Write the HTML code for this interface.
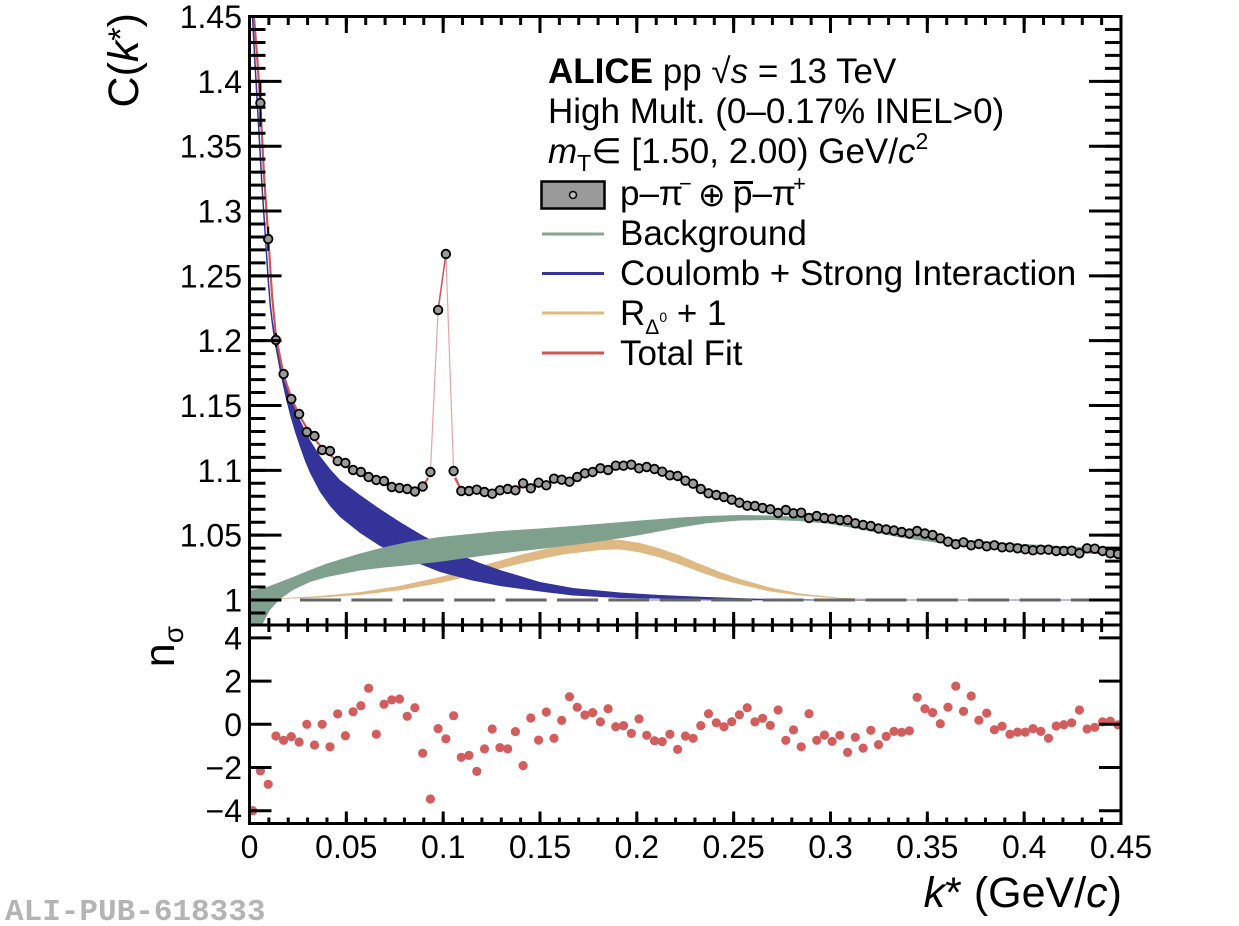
<!DOCTYPE html>
<html><head><meta charset="utf-8"><style>
html,body{margin:0;padding:0;background:#fff;}
svg{display:block;font-family:"Liberation Sans",Arial,sans-serif;}
</style></head><body>
<svg width="1239" height="926" viewBox="0 0 1239 926" xmlns="http://www.w3.org/2000/svg">
<defs>
<clipPath id="cu"><rect x="249.5" y="16.5" width="871.5" height="608.5"/></clipPath>
<clipPath id="cl"><rect x="249.5" y="625" width="871.5" height="198.5"/></clipPath>
</defs>
<rect width="1239" height="926" fill="#fff"/>

<g clip-path="url(#cu)">
<polygon fill="#dfb983" points="250,600 280,598.2 320,596 360,592.1 400,585.8 440,577 480,566.2 520,555 560,545.5 600,540.3 620,539.7 640,543 660,548.5 680,555.5 700,564 720,572 740,579 770,587.5 800,593.5 840,597.8 880,599.4 920,600 1121,600 1121,600.5 920,600.5 880,599.8 840,598.5 800,595.5 770,591.5 740,584.5 720,579 700,572 680,564.5 660,557.5 640,552.5 620,549.4 600,550 560,554.9 520,563.6 480,573.8 440,583 400,590.2 360,594.9 320,597.6 280,599 250,600.5"/>
<line x1="650" y1="600" x2="1121" y2="600" stroke="#7777cc" stroke-width="1"/>
<polygon fill="#333399" points="253,10 255,50 257,85 259,120 261,155 263,190 265,220 267,250 269,280 271,305 273,322 276,340 280,358 284,374 290,395 295,408 300,420 310,440 320,456 330,469 340,480 360,495 380,509 400,522 420,534 440,545 460,555 480,563 500,570 540,582 573,588 620,592.5 660,595 707,597 760,598.7 820,599.6 900,600 900,600.6 800,600.3 707,599.4 620,598 573,595.5 540,591.5 500,586 470,580 440,572 420,564 400,556 380,546 360,533 340,517 330,506 320,492 310,473 305,461 300,447 295,432 290,415 285,395 280,372 274,340 271.5,322 269.5,305 267.5,280 265.5,250 263.5,220 261.5,190 259.5,155 257.5,120 255.5,85 253.5,50 251.5,10"/>
<polygon fill="#7fa08c" points="249,590 258,589 267,587 280,582 293,577 310,570 327,563.5 345,558 360,553.5 385,547 410,541.5 440,537 470,534 500,531 540,528.5 573,526 610,523 640,520.5 680,517.5 707,516 740,515 773,515.5 800,517 830,521 860,526.5 900,532.5 950,538.5 1000,542.5 1050,545.5 1121,549 1121,555 1050,552 1000,549 950,544.5 900,537.5 860,529.3 830,524 800,521 773,520 740,520.5 707,523.3 680,527.5 640,535 610,540 573,545 540,549 500,553.5 470,557.5 440,561.7 410,565 380,568 360,570.5 327,577 310,582 293,590 280,599 270,610 262,625 249,640"/>
<line x1="300" y1="600" x2="1089" y2="600" stroke="#666" stroke-width="3" stroke-dasharray="41 10.4"/>
<polyline fill="none" stroke="#e8a5a5" stroke-width="1.2" points="422.7,487 430.4,472 438.1,310 445.9,254 453.6,471 461.3,490"/>
<polyline fill="none" stroke="#d05555" stroke-width="2.2" points="254,17 257,55 260.4,105 264,175 268.2,236 272,295 275.9,336 283.6,375 291.3,398 299.1,415 306.8,428 314.5,439 322.2,448 330,455 337.7,461 345.4,466 353.1,471 360.9,475 368.6,478 376.3,481 384,484 391.8,486 399.5,488 407.2,489.5 414.9,490 422.7,487 428,478"/>
<polyline fill="none" stroke="#d05555" stroke-width="1.5" points="438.1,310 445.9,254"/>
<polyline fill="none" stroke="#d05555" stroke-width="2.2" points="455,478 461.3,490 469,491 476.8,491.5 484.5,491.5 492.2,491 499.9,490.5 507.7,489.5 515.4,488.5 523.1,487 530.8,486 538.6,484.5 546.3,483 554,481 561.7,480 569.5,478.5 577.2,477 584.9,474.5 592.6,472.5 600.4,470.5 608.1,469 615.8,467.5 623.5,466.5 631.3,466 639,466.5 646.7,467.5 654.5,469.5 662.2,472 669.9,474.5 677.6,477.5 685.4,480.5 693.1,484 700.8,488 708.5,491.5 716.3,494.5 724,497 731.7,499.5 739.4,502 747.2,504 754.9,506 762.6,508 770.3,509.5 778.1,511 785.8,512.5 793.5,513.5 801.2,515 809,516 816.7,517.5 824.4,518.5 832.1,519.5 839.9,520.5 855.3,523 870.8,526 886.2,529 901.7,532 917.1,534.5 932.6,537 948,539.5 963.5,542 978.9,544 994.4,546 1009.9,547.5 1025.3,549 1040.8,550 1056.2,551 1071.7,551.5 1087.1,552 1102.6,552.5 1121,553.5"/>
<g stroke="#000" stroke-width="2">
<line x1="260.4" y1="81.7" x2="260.4" y2="126.7"/>
<line x1="268.2" y1="226.7" x2="268.2" y2="251"/>
<line x1="275.9" y1="333" x2="275.9" y2="347"/>
<line x1="283.6" y1="369" x2="283.6" y2="379"/>
</g>
<g fill="#9a9a9a" stroke="#000" stroke-width="1.8">
<circle cx="260.4" cy="103" r="4.3"/><circle cx="268.2" cy="239" r="4.3"/><circle cx="275.9" cy="340" r="4.3"/><circle cx="283.6" cy="374" r="4.3"/><circle cx="291.3" cy="399" r="4.3"/><circle cx="299.1" cy="414" r="4.3"/><circle cx="306.8" cy="432" r="4.3"/><circle cx="314.5" cy="436" r="4.3"/><circle cx="322.2" cy="450" r="4.3"/><circle cx="330" cy="451" r="4.3"/><circle cx="337.7" cy="461" r="4.3"/><circle cx="345.4" cy="463" r="4.3"/><circle cx="353.1" cy="470" r="4.3"/><circle cx="360.9" cy="472" r="4.3"/><circle cx="368.6" cy="477" r="4.3"/><circle cx="376.3" cy="480" r="4.3"/><circle cx="384" cy="481" r="4.3"/><circle cx="391.8" cy="487" r="4.3"/><circle cx="399.5" cy="488" r="4.3"/><circle cx="407.2" cy="489" r="4.3"/><circle cx="414.9" cy="491.5" r="4.3"/><circle cx="422.7" cy="486.5" r="4.3"/><circle cx="430.4" cy="472" r="4.3"/><circle cx="438.1" cy="310" r="4.3"/><circle cx="445.9" cy="254" r="4.3"/><circle cx="453.6" cy="471" r="4.3"/><circle cx="461.3" cy="491" r="4.3"/><circle cx="469" cy="491" r="4.3"/><circle cx="476.8" cy="489.7" r="4.3"/><circle cx="484.5" cy="492" r="4.3"/><circle cx="492.2" cy="493.7" r="4.3"/><circle cx="499.9" cy="490.3" r="4.3"/><circle cx="507.7" cy="489" r="4.3"/><circle cx="515.4" cy="490.3" r="4.3"/><circle cx="523.1" cy="483.3" r="4.3"/><circle cx="530.8" cy="488.3" r="4.3"/><circle cx="538.6" cy="482.7" r="4.3"/><circle cx="546.3" cy="485.3" r="4.3"/><circle cx="554" cy="478.7" r="4.3"/><circle cx="561.7" cy="479.7" r="4.3"/><circle cx="569.5" cy="481.7" r="4.3"/><circle cx="577.2" cy="477" r="4.3"/><circle cx="584.9" cy="473.3" r="4.3"/><circle cx="592.6" cy="472" r="4.3"/><circle cx="600.4" cy="468.3" r="4.3"/><circle cx="608.1" cy="470" r="4.3"/><circle cx="615.8" cy="465.7" r="4.3"/><circle cx="623.5" cy="465.7" r="4.3"/><circle cx="631.3" cy="464.7" r="4.3"/><circle cx="639" cy="468.3" r="4.3"/><circle cx="646.7" cy="467" r="4.3"/><circle cx="654.5" cy="469" r="4.3"/><circle cx="662.2" cy="471.7" r="4.3"/><circle cx="669.9" cy="475.3" r="4.3"/><circle cx="677.6" cy="476" r="4.3"/><circle cx="685.4" cy="480.7" r="4.3"/><circle cx="693.1" cy="483.7" r="4.3"/><circle cx="700.8" cy="489" r="4.3"/><circle cx="708.5" cy="493.3" r="4.3"/><circle cx="716.3" cy="495" r="4.3"/><circle cx="724" cy="497" r="4.3"/><circle cx="731.7" cy="499.7" r="4.3"/><circle cx="739.4" cy="502.7" r="4.3"/><circle cx="747.2" cy="505.7" r="4.3"/><circle cx="754.9" cy="506" r="4.3"/><circle cx="762.6" cy="508" r="4.3"/><circle cx="770.3" cy="509.3" r="4.3"/><circle cx="778.1" cy="513" r="4.3"/><circle cx="785.8" cy="510" r="4.3"/><circle cx="793.5" cy="513.3" r="4.3"/><circle cx="801.2" cy="512.7" r="4.3"/><circle cx="809" cy="518" r="4.3"/><circle cx="816.7" cy="516" r="4.3"/><circle cx="824.4" cy="518" r="4.3"/><circle cx="832.1" cy="518.7" r="4.3"/><circle cx="839.9" cy="520" r="4.3"/><circle cx="847.6" cy="520" r="4.3"/><circle cx="855.3" cy="523.3" r="4.3"/><circle cx="863.1" cy="525" r="4.3"/><circle cx="870.8" cy="526" r="4.3"/><circle cx="878.5" cy="528.5" r="4.3"/><circle cx="886.2" cy="529.5" r="4.3"/><circle cx="894" cy="530.5" r="4.3"/><circle cx="901.7" cy="532" r="4.3"/><circle cx="909.4" cy="533.5" r="4.3"/><circle cx="917.1" cy="531" r="4.3"/><circle cx="924.9" cy="533.5" r="4.3"/><circle cx="932.6" cy="535" r="4.3"/><circle cx="940.3" cy="538.3" r="4.3"/><circle cx="948" cy="541.7" r="4.3"/><circle cx="955.8" cy="544.3" r="4.3"/><circle cx="963.5" cy="542.3" r="4.3"/><circle cx="971.2" cy="545.3" r="4.3"/><circle cx="978.9" cy="544" r="4.3"/><circle cx="986.7" cy="546.3" r="4.3"/><circle cx="994.4" cy="545.3" r="4.3"/><circle cx="1002.1" cy="547.3" r="4.3"/><circle cx="1009.9" cy="547.3" r="4.3"/><circle cx="1017.6" cy="548.3" r="4.3"/><circle cx="1025.3" cy="549.3" r="4.3"/><circle cx="1033" cy="550.3" r="4.3"/><circle cx="1040.8" cy="549.7" r="4.3"/><circle cx="1048.5" cy="549.7" r="4.3"/><circle cx="1056.2" cy="551" r="4.3"/><circle cx="1063.9" cy="551" r="4.3"/><circle cx="1071.7" cy="550.7" r="4.3"/><circle cx="1079.4" cy="553.3" r="4.3"/><circle cx="1087.1" cy="548.3" r="4.3"/><circle cx="1094.8" cy="548.7" r="4.3"/><circle cx="1102.6" cy="551" r="4.3"/><circle cx="1110.3" cy="553.3" r="4.3"/><circle cx="1118" cy="554" r="4.3"/>
</g>
</g>

<g clip-path="url(#cl)" fill="#d35c5c">
<circle cx="252.7" cy="810.7" r="4.6"/><circle cx="260.4" cy="770.9" r="4.6"/><circle cx="268.2" cy="784.3" r="4.6"/><circle cx="275.9" cy="736" r="4.6"/><circle cx="283.6" cy="740.3" r="4.6"/><circle cx="291.3" cy="736.6" r="4.6"/><circle cx="299.1" cy="742" r="4.6"/><circle cx="306.8" cy="724.3" r="4.6"/><circle cx="314.5" cy="745" r="4.6"/><circle cx="322.2" cy="724.3" r="4.6"/><circle cx="330" cy="746.8" r="4.6"/><circle cx="337.7" cy="713.9" r="4.6"/><circle cx="345.4" cy="735.7" r="4.6"/><circle cx="353.1" cy="711.8" r="4.6"/><circle cx="360.9" cy="705.7" r="4.6"/><circle cx="368.6" cy="688.2" r="4.6"/><circle cx="376.3" cy="734.2" r="4.6"/><circle cx="384" cy="704.2" r="4.6"/><circle cx="391.8" cy="699.9" r="4.6"/><circle cx="399.5" cy="699" r="4.6"/><circle cx="407.2" cy="716.3" r="4.6"/><circle cx="414.9" cy="707.7" r="4.6"/><circle cx="422.7" cy="753.2" r="4.6"/><circle cx="430.4" cy="799" r="4.6"/><circle cx="438.1" cy="728.6" r="4.6"/><circle cx="445.9" cy="738.8" r="4.6"/><circle cx="453.6" cy="715.7" r="4.6"/><circle cx="461.3" cy="757.3" r="4.6"/><circle cx="469" cy="755.4" r="4.6"/><circle cx="476.8" cy="771.4" r="4.6"/><circle cx="484.5" cy="748.9" r="4.6"/><circle cx="492.2" cy="729" r="4.6"/><circle cx="499.9" cy="747.6" r="4.6"/><circle cx="507.7" cy="748.9" r="4.6"/><circle cx="515.4" cy="731.6" r="4.6"/><circle cx="523.1" cy="765.6" r="4.6"/><circle cx="530.8" cy="718" r="4.6"/><circle cx="538.6" cy="740.1" r="4.6"/><circle cx="546.3" cy="712" r="4.6"/><circle cx="554" cy="738.3" r="4.6"/><circle cx="561.7" cy="720.4" r="4.6"/><circle cx="569.5" cy="696.7" r="4.6"/><circle cx="577.2" cy="707.2" r="4.6"/><circle cx="584.9" cy="715" r="4.6"/><circle cx="592.6" cy="712.6" r="4.6"/><circle cx="600.4" cy="721.9" r="4.6"/><circle cx="608.1" cy="708.7" r="4.6"/><circle cx="615.8" cy="726.7" r="4.6"/><circle cx="623.5" cy="725.6" r="4.6"/><circle cx="631.3" cy="733.4" r="4.6"/><circle cx="639" cy="718.9" r="4.6"/><circle cx="646.7" cy="735.3" r="4.6"/><circle cx="654.5" cy="740.7" r="4.6"/><circle cx="662.2" cy="741.6" r="4.6"/><circle cx="669.9" cy="734.2" r="4.6"/><circle cx="677.6" cy="749.4" r="4.6"/><circle cx="685.4" cy="736" r="4.6"/><circle cx="693.1" cy="738.3" r="4.6"/><circle cx="700.8" cy="725.6" r="4.6"/><circle cx="708.5" cy="713.7" r="4.6"/><circle cx="716.3" cy="722.8" r="4.6"/><circle cx="724" cy="726.7" r="4.6"/><circle cx="731.7" cy="721.7" r="4.6"/><circle cx="739.4" cy="714.8" r="4.6"/><circle cx="747.2" cy="707.7" r="4.6"/><circle cx="754.9" cy="721.9" r="4.6"/><circle cx="762.6" cy="718.3" r="4.6"/><circle cx="770.3" cy="725.4" r="4.6"/><circle cx="778.1" cy="710" r="4.6"/><circle cx="785.8" cy="740.3" r="4.6"/><circle cx="793.5" cy="729.9" r="4.6"/><circle cx="801.2" cy="746.8" r="4.6"/><circle cx="809" cy="713.7" r="4.6"/><circle cx="816.7" cy="740.3" r="4.6"/><circle cx="824.4" cy="735.1" r="4.6"/><circle cx="832.1" cy="741.4" r="4.6"/><circle cx="839.9" cy="735.3" r="4.6"/><circle cx="847.6" cy="752.4" r="4.6"/><circle cx="855.3" cy="737.3" r="4.6"/><circle cx="863.1" cy="748.1" r="4.6"/><circle cx="870.8" cy="730.3" r="4.6"/><circle cx="878.5" cy="744.6" r="4.6"/><circle cx="886.2" cy="736.4" r="4.6"/><circle cx="894" cy="731.4" r="4.6"/><circle cx="901.7" cy="732.3" r="4.6"/><circle cx="909.4" cy="730.8" r="4.6"/><circle cx="917.1" cy="697.3" r="4.6"/><circle cx="924.9" cy="708.7" r="4.6"/><circle cx="932.6" cy="712.6" r="4.6"/><circle cx="940.3" cy="723.7" r="4.6"/><circle cx="948" cy="707.2" r="4.6"/><circle cx="955.8" cy="686.1" r="4.6"/><circle cx="963.5" cy="711.3" r="4.6"/><circle cx="971.2" cy="696" r="4.6"/><circle cx="978.9" cy="720.2" r="4.6"/><circle cx="986.7" cy="713.1" r="4.6"/><circle cx="994.4" cy="729.7" r="4.6"/><circle cx="1002.1" cy="726.2" r="4.6"/><circle cx="1009.9" cy="734.2" r="4.6"/><circle cx="1017.6" cy="732.1" r="4.6"/><circle cx="1025.3" cy="732.1" r="4.6"/><circle cx="1033" cy="728.6" r="4.6"/><circle cx="1040.8" cy="731.4" r="4.6"/><circle cx="1048.5" cy="738.3" r="4.6"/><circle cx="1056.2" cy="726" r="4.6"/><circle cx="1063.9" cy="724.7" r="4.6"/><circle cx="1071.7" cy="722.8" r="4.6"/><circle cx="1079.4" cy="710" r="4.6"/><circle cx="1087.1" cy="729" r="4.6"/><circle cx="1094.8" cy="727.3" r="4.6"/><circle cx="1102.6" cy="721.9" r="4.6"/><circle cx="1110.3" cy="721.1" r="4.6"/><circle cx="1118" cy="724.9" r="4.6"/>
</g>

<g fill="none" stroke="#000" stroke-width="3">
<rect x="249.5" y="16.5" width="871.5" height="608.5"/>
<rect x="249.5" y="625" width="871.5" height="198.5"/>
</g>
<g stroke="#000" fill="none">
<line x1="257.5" y1="614.47" x2="257.5" y2="15" stroke-width="16" stroke-dasharray="3 9.966"/>
<line x1="265.5" y1="601.5" x2="265.5" y2="15" stroke-width="32" stroke-dasharray="3 61.83"/>
<line x1="1113" y1="614.47" x2="1113" y2="15" stroke-width="16" stroke-dasharray="3 9.966"/>
<line x1="1105" y1="601.5" x2="1105" y2="15" stroke-width="32" stroke-dasharray="3 61.83"/>
<line x1="248" y1="625" x2="1125" y2="625" stroke-width="14" stroke-dasharray="3 16.367"/>
<line x1="248" y1="625.5" x2="1125" y2="625.5" stroke-width="27" stroke-dasharray="3 93.83"/>
<line x1="248" y1="20.75" x2="1125" y2="20.75" stroke-width="8.5" stroke-dasharray="3 16.367"/>
<line x1="248" y1="24.75" x2="1125" y2="24.75" stroke-width="16.5" stroke-dasharray="3 93.83"/>
<line x1="248" y1="820.5" x2="1125" y2="820.5" stroke-width="6" stroke-dasharray="3 16.367"/>
<line x1="248" y1="817.5" x2="1125" y2="817.5" stroke-width="12" stroke-dasharray="3 93.83"/>
<line x1="260.5" y1="812.2" x2="260.5" y2="630" stroke-width="22" stroke-dasharray="3 40.2"/>
<line x1="1110" y1="812.2" x2="1110" y2="630" stroke-width="22" stroke-dasharray="3 40.2"/>
</g>

<g font-size="32" fill="#000" text-anchor="end">
<text x="242" y="611.5">1</text>
<text x="242" y="546.7">1.05</text>
<text x="242" y="481.8">1.1</text>
<text x="242" y="417">1.15</text>
<text x="242" y="352.2">1.2</text>
<text x="242" y="287.3">1.25</text>
<text x="242" y="222.5">1.3</text>
<text x="242" y="157.7">1.35</text>
<text x="242" y="92.9">1.4</text>
<text x="242" y="28">1.45</text>
<text x="242" y="649.4">4</text>
<text x="242" y="692.6">2</text>
<text x="242" y="735.8">0</text>
<text x="242" y="779">−2</text>
<text x="242" y="822.2">−4</text>
</g>
<g font-size="32" fill="#000" text-anchor="middle">
<text x="249.5" y="858">0</text>
<text x="346.3" y="858">0.05</text>
<text x="443.2" y="858">0.1</text>
<text x="540" y="858">0.15</text>
<text x="636.8" y="858">0.2</text>
<text x="733.7" y="858">0.25</text>
<text x="830.5" y="858">0.3</text>
<text x="927.3" y="858">0.35</text>
<text x="1024.2" y="858">0.4</text>
<text x="1121" y="858">0.45</text>
</g>

<text x="1122" y="907" font-size="43" text-anchor="end"><tspan font-style="italic">k</tspan>* (GeV/<tspan font-style="italic">c</tspan>)</text>
<text transform="translate(138,13) rotate(-90)" font-size="43" text-anchor="end">C(<tspan font-style="italic">k</tspan><tspan font-size="34" dy="-6">*</tspan><tspan dy="6">)</tspan></text>
<text transform="translate(174,626) rotate(-90)" font-size="43" text-anchor="end">n<tspan font-size="28" dy="9">σ</tspan></text>

<g fill="#000" font-size="35">
<text x="548" y="83"><tspan font-weight="bold">ALICE</tspan> pp  √<tspan font-style="italic">s</tspan> = 13 TeV</text>
<text x="548" y="123">High Mult. (0–0.17% INEL&gt;0)</text>
<text x="548" y="163"><tspan font-style="italic">m</tspan><tspan font-size="23" dy="8">T</tspan><tspan dy="-8">∈ [1.50, 2.00) GeV/</tspan><tspan font-style="italic">c</tspan><tspan font-size="23" dy="-14">2</tspan></text>
</g>

<rect x="541.5" y="181.5" width="63" height="27" fill="#9a9a9a" stroke="#000" stroke-width="2.5"/>
<circle cx="573" cy="195" r="3.5" fill="#bbb" stroke="#000" stroke-width="1.5"/>
<line x1="542" y1="234" x2="604" y2="234" stroke="#86a592" stroke-width="3"/>
<line x1="542" y1="273.5" x2="604" y2="273.5" stroke="#35359a" stroke-width="3"/>
<line x1="542" y1="313" x2="604" y2="313" stroke="#e0b97e" stroke-width="3"/>
<line x1="542" y1="353" x2="604" y2="353" stroke="#d35454" stroke-width="3"/>
<g font-size="35" fill="#000">
<text x="620" y="205">p–π</text>
<text x="679" y="191" font-size="22">−</text>
<text x="698" y="206" font-size="33">⊕</text>
<text x="733" y="205">p–π</text>
<text x="793" y="191" font-size="22">+</text>
<text x="620" y="245">Background</text>
<text x="620" y="285">Coulomb + Strong Interaction</text>
<text x="620" y="325">R<tspan font-size="21" dy="9">Δ</tspan><tspan font-size="14" dy="-12">0</tspan><tspan dy="3"> + 1</tspan></text>
<text x="620" y="365">Total Fit</text>
</g>
<line x1="734" y1="182.5" x2="753" y2="182.5" stroke="#000" stroke-width="3"/>

<text x="5" y="920" font-family="Liberation Mono, monospace" font-weight="bold" font-size="31" fill="#b4b4b4">ALI-PUB-618333</text>
</svg>
</body></html>
